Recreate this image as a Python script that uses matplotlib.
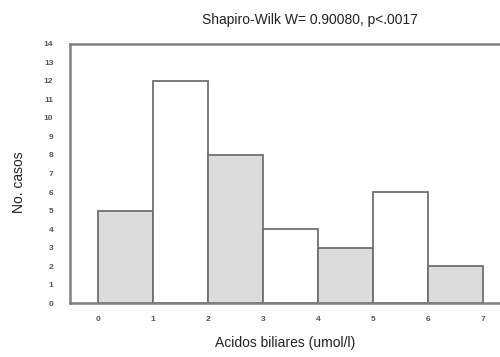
import matplotlib
matplotlib.use("Agg")
import matplotlib.pyplot as plt

bin_edges = [0, 1, 2, 3, 4, 5, 6, 7]
counts = [5, 12, 8, 4, 3, 6, 2]
colors = ["#dcdcdc", "#ffffff", "#dcdcdc", "#ffffff", "#dcdcdc", "#ffffff", "#dcdcdc"]
xticks = [0, 1, 2, 3, 4, 5, 6, 7]
yticks = list(range(0, 15))

plt.rcParams['font.family'] = ['Liberation Sans', 'DejaVu Sans']
fig = plt.figure(figsize=(5, 3.57), dpi=100)
ax = fig.add_axes([0.14, 0.151, 0.86, 0.726])

lefts = bin_edges[:-1]
widths = [b - a for a, b in zip(bin_edges[:-1], bin_edges[1:])]
ax.bar(lefts, counts, width=widths, align='edge', color=colors,
       edgecolor='#707070', linewidth=1.3, zorder=2)

ax.set_xlim(-0.51, 7.31)
ax.set_ylim(0, 14)
ax.set_xticks(xticks)
ax.set_yticks(yticks)
ax.tick_params(axis='both', length=0, labelsize=6, colors='#555555')
for lab in ax.get_xticklabels() + ax.get_yticklabels():
    lab.set_fontweight('bold')
ax.tick_params(axis='y', pad=12)
ax.tick_params(axis='x', pad=9)
for s in ['left', 'bottom', 'top']:
    ax.spines[s].set_color('#808080')
    ax.spines[s].set_linewidth(1.8)
ax.spines['right'].set_visible(False)

fig.text(0.62, 0.943, "Shapiro-Wilk W= 0.90080, p<.0017", ha='center', va='center',
         fontsize=10, color='#222222')
fig.text(0.57, 0.038, "Acidos biliares (umol/l)", ha='center', va='center',
         fontsize=10, color='#222222')
fig.text(0.038, 0.49, "No. casos", ha='center', va='center', rotation=90,
         fontsize=10, color='#222222')

fig.savefig("out.png", dpi=100)
